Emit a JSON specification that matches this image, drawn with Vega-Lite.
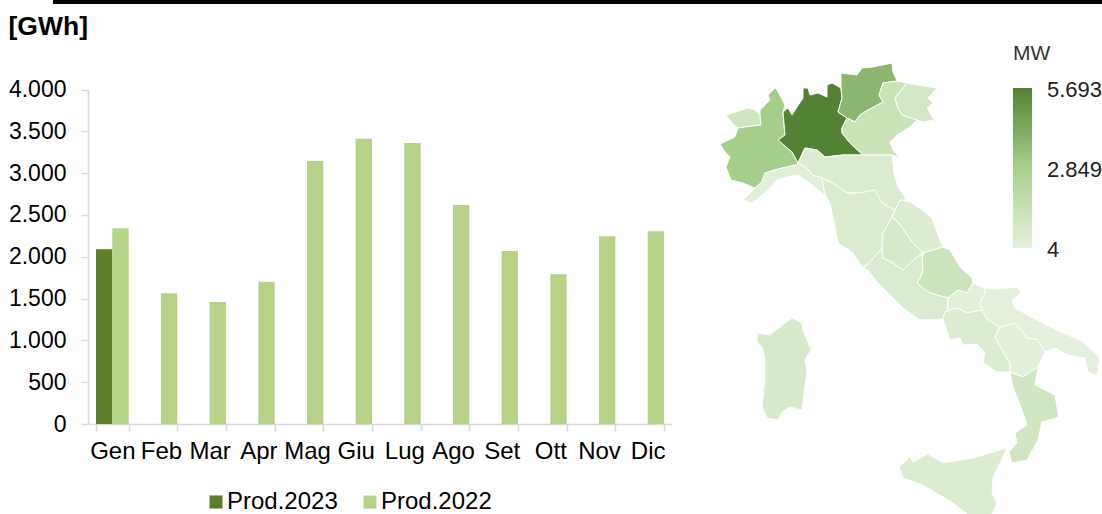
{"$schema":"https://vega.github.io/schema/vega-lite/v6.json","width":1102,"height":514,"padding":0,"autosize":{"type":"none"},"background":"white","config":{"view":{"stroke":null},"font":"Liberation Sans","locale":{"number":{"decimal":",","thousands":".","grouping":[3],"currency":["","€"]}}},"layer":[{"data":{"values":[{"da":0,"a":1}]},"mark":{"type":"rule","stroke":"#000000","strokeWidth":4},"encoding":{"x":{"field":"da","type":"quantitative","axis":null,"scale":{"domain":[0,1],"range":[53,1102]}},"x2":{"field":"a"},"y":{"value":2}}},{"data":{"values":[{"mese":"Gen","serie":"Prod.2023","gwh":2090},{"mese":"Gen","serie":"Prod.2022","gwh":2340},{"mese":"Feb","serie":"Prod.2022","gwh":1565},{"mese":"Mar","serie":"Prod.2022","gwh":1460},{"mese":"Apr","serie":"Prod.2022","gwh":1700},{"mese":"Mag","serie":"Prod.2022","gwh":3145},{"mese":"Giu","serie":"Prod.2022","gwh":3410},{"mese":"Lug","serie":"Prod.2022","gwh":3360},{"mese":"Ago","serie":"Prod.2022","gwh":2620},{"mese":"Set","serie":"Prod.2022","gwh":2070},{"mese":"Ott","serie":"Prod.2022","gwh":1790},{"mese":"Nov","serie":"Prod.2022","gwh":2245},{"mese":"Dic","serie":"Prod.2022","gwh":2305}]},"mark":{"type":"bar"},"encoding":{"x":{"field":"mese","type":"nominal","title":null,"scale":{"domain":["Gen","Feb","Mar","Apr","Mag","Giu","Lug","Ago","Set","Ott","Nov","Dic"],"range":[88,672],"paddingInner":0.33,"paddingOuter":0.165},"axis":{"offset":-90,"labelAngle":0,"labelFontSize":24,"labelColor":"#000000","labelPadding":8,"domainColor":"#d9d9d9","domainWidth":1.5,"tickColor":"#d9d9d9","tickWidth":1.5,"tickSize":7,"tickBand":"extent","grid":false}},"xOffset":{"field":"serie","type":"nominal","scale":{"domain":["Prod.2023","Prod.2022"]}},"y":{"field":"gwh","type":"quantitative","title":"[GWh]","scale":{"domain":[0,4000],"range":[424,89.5],"nice":false},"axis":{"offset":-88,"values":[0,500,1000,1500,2000,2500,3000,3500,4000],"format":",d","labelFontSize":23,"labelColor":"#000000","labelPadding":15,"domainColor":"#d9d9d9","domainWidth":1.5,"tickColor":"#d9d9d9","tickWidth":1.5,"tickSize":7,"grid":false,"titleAngle":0,"titleAlign":"left","titleBaseline":"alphabetic","titleFontSize":26.5,"titleFontWeight":"bold","titleColor":"#000000","titleX":-80,"titleY":34}},"color":{"field":"serie","type":"nominal","scale":{"domain":["Prod.2023","Prod.2022"],"range":["#5e7d29","#b5d286"]},"legend":{"title":null,"orient":"none","legendX":204,"legendY":490,"direction":"horizontal","columns":2,"symbolType":"square","symbolSize":170,"symbolStrokeWidth":0,"labelFontSize":24,"labelColor":"#000000","labelOffset":-1,"columnPadding":20}}}},{"data":{"values":[
{"type":"Feature","properties":{"regione":"Valle d'Aosta","mw":950},"geometry":{"type":"Polygon","coordinates":[[[6,55],[15,52],[28,48],[35,50],[40,55],[41,65],[32,66],[18,68],[12,63],[6,55]]]}},
{"type":"Feature","properties":{"regione":"Piemonte","mw":2950},"geometry":{"type":"Polygon","coordinates":[[[55,28],[48,35],[50,40],[40,50],[40,55],[41,65],[32,66],[18,68],[15,77],[0,84],[5,92],[10,97],[6,107],[11,120],[23,123],[35,128],[42,122],[45,113],[62,108],[76,105],[78,103],[72,92],[58,80],[65,75],[63,52],[65,45],[57,30],[55,28]]]}},
{"type":"Feature","properties":{"regione":"Lombardia","mw":5693},"geometry":{"type":"Polygon","coordinates":[[[63,52],[68,48],[72,55],[77,47],[83,38],[83,28],[88,28],[90,35],[98,33],[107,37],[107,25],[112,23],[121,28],[122,38],[118,52],[127,58],[122,68],[122,73],[130,83],[143,95],[123,95],[105,97],[97,90],[85,88],[78,103],[72,92],[58,80],[65,75],[63,52]]]}},
{"type":"Feature","properties":{"regione":"Trentino-Alto Adige","mw":3800},"geometry":{"type":"Polygon","coordinates":[[[121,13],[137,15],[142,8],[153,7],[172,3],[173,12],[177,21],[163,23],[159,35],[163,42],[148,50],[140,55],[135,62],[127,58],[118,52],[122,38],[121,28],[121,13]]]}},
{"type":"Feature","properties":{"regione":"Veneto","mw":1300},"geometry":{"type":"Polygon","coordinates":[[[177,21],[187,23],[175,38],[178,48],[182,55],[197,60],[190,67],[177,75],[170,82],[173,90],[180,98],[172,95],[143,95],[130,83],[122,73],[122,68],[127,58],[135,62],[140,55],[148,50],[163,42],[159,35],[163,23],[177,21]]]}},
{"type":"Feature","properties":{"regione":"Friuli-Venezia Giulia","mw":800},"geometry":{"type":"Polygon","coordinates":[[[187,23],[197,25],[217,28],[208,38],[213,43],[207,48],[213,58],[222,67],[213,60],[203,62],[197,60],[182,55],[178,48],[175,38],[187,23]]]}},
{"type":"Feature","properties":{"regione":"Emilia-Romagna","mw":450},"geometry":{"type":"Polygon","coordinates":[[[85,88],[97,90],[105,97],[123,95],[143,95],[172,95],[174,113],[178,127],[187,140],[180,140],[175,150],[162,143],[155,130],[140,133],[127,133],[113,123],[102,118],[92,115],[87,108],[78,103],[85,88]]]}},
{"type":"Feature","properties":{"regione":"Liguria","mw":150},"geometry":{"type":"Polygon","coordinates":[[[23,140],[32,143],[45,133],[57,120],[67,117],[78,115],[90,123],[102,133],[105,135],[102,118],[92,115],[87,108],[78,103],[76,105],[62,108],[45,113],[42,122],[35,128],[23,140]]]}},
{"type":"Feature","properties":{"regione":"Toscana","mw":450},"geometry":{"type":"Polygon","coordinates":[[[102,118],[113,123],[127,133],[140,133],[155,130],[162,143],[175,150],[172,157],[163,173],[162,188],[150,202],[143,208],[133,193],[118,183],[115,167],[110,143],[105,135],[102,118]]]}},
{"type":"Feature","properties":{"regione":"Umbria","mw":620},"geometry":{"type":"Polygon","coordinates":[[[172,157],[178,162],[185,172],[193,183],[203,193],[193,200],[183,210],[173,203],[163,198],[162,188],[163,173],[172,157]]]}},
{"type":"Feature","properties":{"regione":"Marche","mw":400},"geometry":{"type":"Polygon","coordinates":[[[180,140],[190,142],[202,150],[212,158],[217,173],[223,187],[203,193],[193,183],[185,172],[178,162],[172,157],[175,150],[180,140]]]}},
{"type":"Feature","properties":{"regione":"Abruzzo","mw":1150},"geometry":{"type":"Polygon","coordinates":[[[223,187],[230,190],[240,207],[252,218],[253,223],[247,233],[238,230],[228,238],[217,235],[208,232],[197,223],[200,218],[203,210],[202,203],[203,193],[223,187]]]}},
{"type":"Feature","properties":{"regione":"Lazio","mw":450},"geometry":{"type":"Polygon","coordinates":[[[143,208],[150,202],[162,188],[163,198],[173,203],[183,210],[193,200],[203,193],[202,203],[203,210],[200,218],[197,223],[208,232],[217,235],[228,238],[228,242],[227,252],[225,252],[223,259],[200,260],[183,248],[172,237],[157,222],[148,210],[143,208]]]}},
{"type":"Feature","properties":{"regione":"Molise","mw":120},"geometry":{"type":"Polygon","coordinates":[[[228,242],[228,238],[238,230],[247,233],[253,223],[265,228],[265,233],[260,243],[262,250],[247,253],[237,248],[227,252],[228,242]]]}},
{"type":"Feature","properties":{"regione":"Campania","mw":420},"geometry":{"type":"Polygon","coordinates":[[[225,252],[237,248],[247,253],[262,250],[268,260],[280,267],[275,277],[282,290],[290,303],[290,312],[277,312],[263,303],[265,293],[257,284],[243,285],[240,278],[230,280],[223,259],[225,252]]]}},
{"type":"Feature","properties":{"regione":"Puglia","mw":4},"geometry":{"type":"Polygon","coordinates":[[[265,228],[277,229],[297,227],[301,233],[292,240],[295,248],[317,260],[337,270],[363,282],[380,298],[377,316],[368,312],[365,298],[348,295],[335,288],[325,292],[318,280],[307,278],[295,263],[280,267],[268,260],[262,250],[260,243],[265,233],[265,228]]]}},
{"type":"Feature","properties":{"regione":"Basilicata","mw":100},"geometry":{"type":"Polygon","coordinates":[[[280,267],[295,263],[307,278],[318,280],[325,292],[318,307],[313,310],[303,317],[290,312],[290,303],[282,290],[275,277],[280,267]]]}},
{"type":"Feature","properties":{"regione":"Calabria","mw":950},"geometry":{"type":"Polygon","coordinates":[[[290,312],[303,317],[313,310],[318,307],[315,325],[335,335],[337,347],[339,357],[322,362],[318,380],[307,400],[292,403],[289,392],[297,383],[295,373],[307,365],[302,350],[293,327],[290,312]]]}},
{"type":"Feature","properties":{"regione":"Sicilia","mw":400},"geometry":{"type":"Polygon","coordinates":[[[179,407],[190,397],[193,402],[208,394],[223,403],[253,398],[287,388],[273,418],[272,433],[277,443],[272,454],[268,462],[255,464],[247,454],[233,443],[203,425],[183,418],[179,407]]]}},
{"type":"Feature","properties":{"regione":"Sardegna","mw":620},"geometry":{"type":"Polygon","coordinates":[[[40,263],[38,273],[50,275],[60,267],[72,258],[82,263],[83,270],[91,290],[85,300],[87,310],[82,350],[70,347],[62,352],[58,360],[47,358],[42,347],[45,317],[45,300],[42,287],[37,282],[37,275],[40,263]]]}}
]},"mark":{"type":"geoshape","stroke":"#ffffff","strokeWidth":1},"projection":{"type":"identity","scale":1,"translate":[720,60]},"encoding":{"color":{"field":"properties.mw","type":"quantitative","scale":{"domain":[4,2849,5693],"range":["#e4f0dc","#a9d18e","#548235"]},"legend":{"title":"MW","orient":"none","legendX":1013,"legendY":43,"type":"gradient","direction":"vertical","gradientLength":160,"gradientThickness":19,"gradientStrokeWidth":0,"values":[4,2849,5693],"format":",d","titleFontSize":21,"titleFontWeight":"normal","titleColor":"#333333","titlePadding":24,"labelFontSize":22,"labelColor":"#222222","labelOffset":15,"labelOverlap":false,"encode":{"labels":{"update":{"baseline":{"value":"middle"},"dy":{"value":2}}}}}}}}],"resolve":{"scale":{"x":"independent","y":"independent","xOffset":"independent","color":"independent"},"axis":{"x":"independent","y":"independent"},"legend":{"color":"independent"}}}
